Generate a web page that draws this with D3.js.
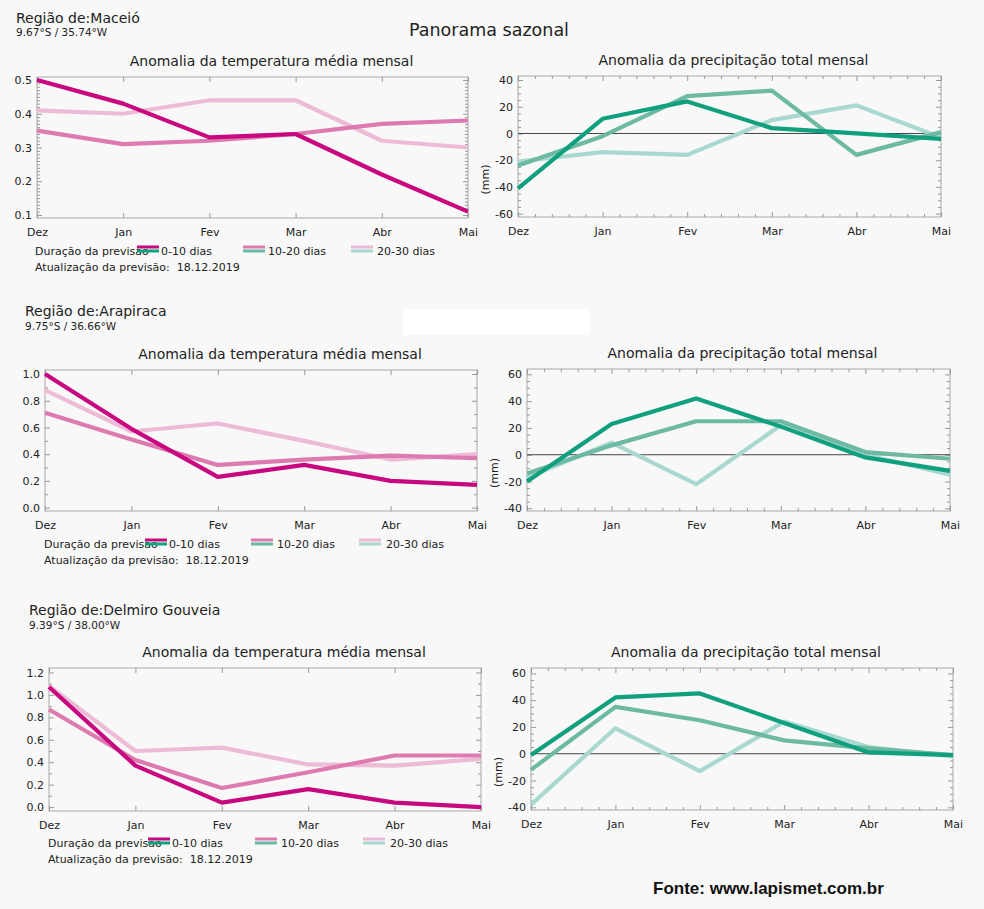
<html>
<head>
  <script type="text/javascript" src="https://d3js.org/d3.v7.min.js"></script>
  <style>
      body { margin: 0; background: #f8f8f8; }
      svg text { font-family: "DejaVu Sans", sans-serif; fill: #222; }
  </style>
</head>
<body>
<div id="chart"></div>
<script>
    // months on the x axis and the three forecast ranges
    const months = ["Dez", "Jan", "Fev", "Mar", "Abr", "Mai"];
    const seriesNames = ["0-10 dias", "10-20 dias", "20-30 dias"];

    // temperature anomaly, one row per forecast range (0-10, 10-20, 20-30)
    const maceioTemp = [
        [0.50, 0.43, 0.33, 0.34, 0.22, 0.11],
        [0.35, 0.31, 0.32, 0.34, 0.37, 0.38],
        [0.41, 0.40, 0.44, 0.44, 0.32, 0.30]
    ];
    const arapiracaTemp = [
        [1.00, 0.59, 0.23, 0.32, 0.20, 0.17],
        [0.71, 0.51, 0.32, 0.36, 0.39, 0.37],
        [0.88, 0.57, 0.63, 0.50, 0.36, 0.40]
    ];
    const delmiroTemp = [
        [1.07, 0.37, 0.04, 0.16, 0.04, 0.00],
        [0.87, 0.42, 0.17, 0.31, 0.46, 0.46],
        [1.08, 0.50, 0.53, 0.38, 0.37, 0.43]
    ];

    // precipitation anomaly (mm)
    const maceioPrec = [
        [-41, 11, 24, 4, 0, -4],
        [-24, -2, 28, 32, -16, 1],
        [-21, -14, -16, 10, 21, -3]
    ];
    const arapiracaPrec = [
        [-20, 23, 42, 21, -2, -12],
        [-14, 7, 25, 25, 2, -3],
        [-17, 9, -22, 22, 0, -15]
    ];
    const delmiroPrec = [
        [-1, 42, 45, 23, 1, -1],
        [-12, 35, 25, 10, 4, -1],
        [-38, 19, -13, 24, 5, -2]
    ];

    // tick labels
    const tempTicks1 = [0.1, 0.2, 0.3, 0.4, 0.5];
    const tempTicks2 = [0.0, 0.2, 0.4, 0.6, 0.8, 1.0];
    const tempTicks3 = [0.0, 0.2, 0.4, 0.6, 0.8, 1.0, 1.2];
    const precTicks1 = [-60, -40, -20, 0, 20, 40];
    const precTicks2 = [-40, -20, 0, 20, 40, 60];

    const regionNames = ["Região de:Maceió", "Região de:Arapiraca", "Região de:Delmiro Gouveia"];
    const regionCoords = ["9.67°S / 35.74°W", "9.75°S / 36.66°W", "9.39°S / 38.00°W"];
    const updateDate = "18.12.2019";

    const pinkColors = ["#c8087f", "#dd7aaf", "#eebbd7"];
    const greenColors = ["#11a07e", "#6db9a3", "#a9d8d1"];

    const width = 984, height = 909;
    const svg = d3.select("#chart").append("svg")
        .attr("width", width)
        .attr("height", height);

    svg.append("rect").attr("width", width).attr("height", height).attr("fill", "#f8f8f8");

    function drawPanel(box, data, domain, ticks, minorStep, colors, xMinor, isPrec, title, titleShift) {
        const x = d3.scalePoint().domain(months).range([box.left, box.right]);
        const y = d3.scaleLinear().domain(domain).range([box.bottom, box.top]);
        const g = svg.append("g");

        g.append("rect")
            .attr("x", box.left).attr("y", box.top)
            .attr("width", box.right - box.left).attr("height", box.bottom - box.top)
            .attr("fill", "#f8f8f8").attr("stroke", "#a8a8a8");

        const minorTicks = d3.range(Math.ceil(domain[0] / minorStep) * minorStep, domain[1], minorStep)
            .filter(v => ticks.every(t => Math.abs(t - v) > 1e-6));

        // y axes (left with labels, right without)
        g.append("g").attr("transform", `translate(${box.left},0)`)
            .call(d3.axisLeft(y).tickValues(ticks).tickSize(-5).tickPadding(5)
                .tickFormat(isPrec ? (d => String(d)) : d3.format(".1f")));
        g.append("g").attr("transform", `translate(${box.left},0)`)
            .call(d3.axisLeft(y).tickValues(minorTicks).tickSize(-3).tickFormat(""));
        g.append("g").attr("transform", `translate(${box.right},0)`)
            .call(d3.axisRight(y).tickValues(ticks).tickSize(-5).tickFormat(""));
        g.append("g").attr("transform", `translate(${box.right},0)`)
            .call(d3.axisRight(y).tickValues(minorTicks).tickSize(-3).tickFormat(""));

        // x axes
        g.append("g").attr("transform", `translate(0,${box.bottom})`)
            .call(d3.axisBottom(x).tickSize(-5).tickPadding(10));
        g.append("g").attr("transform", `translate(0,${box.top})`)
            .call(d3.axisTop(x).tickSize(-5).tickFormat(""));
        if (xMinor) {
            const xm = d3.scaleLinear().domain([0, 25]).range([box.left, box.right]);
            const mv = d3.range(1, 25).filter(v => v % 5 !== 0);
            g.append("g").attr("transform", `translate(0,${box.bottom})`)
                .call(d3.axisBottom(xm).tickValues(mv).tickSize(-3).tickFormat(""));
            g.append("g").attr("transform", `translate(0,${box.top})`)
                .call(d3.axisTop(xm).tickValues(mv).tickSize(-3).tickFormat(""));
        }

        g.selectAll(".domain").remove();
        g.selectAll(".tick line").attr("stroke", "#999");
        g.selectAll(".tick text").attr("font-size", 11).attr("fill", "#222")
            .attr("font-family", "DejaVu Sans, sans-serif");

        if (isPrec) {
            g.append("line")
                .attr("x1", box.left).attr("x2", box.right)
                .attr("y1", y(0)).attr("y2", y(0))
                .attr("stroke", "#444").attr("stroke-width", 1);
            g.append("text")
                .attr("transform", `translate(${box.left - 29},${(box.top + box.bottom) / 2 + 33}) rotate(-90)`)
                .attr("text-anchor", "middle")
                .attr("font-size", 11)
                .text("(mm)");
        }

        const line = d3.line().x((d, i) => x(months[i])).y(d => y(d));
        [2, 1, 0].forEach(k => {
            g.append("path")
                .datum(data[k])
                .attr("d", line)
                .attr("fill", "none")
                .attr("stroke", colors[k])
                .attr("stroke-width", 4.2)
                .attr("stroke-linejoin", "round");
        });

        g.append("text")
            .attr("x", (box.left + box.right) / 2 + titleShift)
            .attr("y", box.top - 11)
            .attr("text-anchor", "middle")
            .attr("font-size", 14)
            .text(title);
    }

    const layout = [
        { header: [16, 23, 36], temp: { left: 37, right: 468, top: 77, bottom: 218 },
          prec: { left: 518, right: 941, top: 76, bottom: 217 },
          legend: { x: 35, y: 255, sw: [137, 243, 351], tx: [161, 268, 377] } },
        { header: [25, 316, 330], temp: { left: 45, right: 477, top: 370, bottom: 511 },
          prec: { left: 527, right: 950, top: 369, bottom: 511 },
          legend: { x: 44, y: 548, sw: [145, 251, 359], tx: [169, 277, 386] } },
        { header: [29, 615, 629], temp: { left: 49, right: 481, top: 668, bottom: 811 },
          prec: { left: 531, right: 953, top: 668, bottom: 810 },
          legend: { x: 48, y: 847, sw: [148, 255, 363], tx: [172, 281, 390] } }
    ];

    const tempData = [maceioTemp, arapiracaTemp, delmiroTemp];
    const precData = [maceioPrec, arapiracaPrec, delmiroPrec];
    const tempDomains = [[0.091, 0.509], [-0.025, 1.03], [-0.035, 1.24]];
    const tempTickSets = [tempTicks1, tempTicks2, tempTicks3];
    const tempMinor = [0.01, 0.1, 0.1];
    const precDomains = [[-62.5, 43], [-42, 64], [-42, 64]];
    const precTickSets = [precTicks1, precTicks2, precTicks2];

    layout.forEach((L, r) => {
        svg.append("text").attr("x", L.header[0]).attr("y", L.header[1])
            .attr("font-size", 14).text(regionNames[r]);
        svg.append("text").attr("x", L.header[0]).attr("y", L.header[2])
            .attr("font-size", 10.5).text(regionCoords[r]);

        drawPanel(L.temp, tempData[r], tempDomains[r], tempTickSets[r], tempMinor[r],
            pinkColors, false, false, "Anomalia da temperatura média mensal", 19);
        drawPanel(L.prec, precData[r], precDomains[r], precTickSets[r], 5,
            greenColors, true, true, "Anomalia da precipitação total mensal", 4);

        // legend
        const lg = L.legend;
        svg.append("text").attr("x", lg.x).attr("y", lg.y).attr("font-size", 11)
            .text("Duração da previsão");
        seriesNames.forEach((s, k) => {
            svg.append("line").attr("x1", lg.sw[k]).attr("x2", lg.sw[k] + 22)
                .attr("y1", lg.y - 8).attr("y2", lg.y - 8)
                .attr("stroke", pinkColors[k]).attr("stroke-width", 3);
            svg.append("line").attr("x1", lg.sw[k]).attr("x2", lg.sw[k] + 22)
                .attr("y1", lg.y - 4).attr("y2", lg.y - 4)
                .attr("stroke", greenColors[k]).attr("stroke-width", 3);
            svg.append("text").attr("x", lg.tx[k]).attr("y", lg.y).attr("font-size", 11)
                .text(s);
        });
        svg.append("text").attr("x", lg.x).attr("y", lg.y + 16).attr("font-size", 11)
            .attr("xml:space", "preserve")
            .text("Atualização da previsão:  " + updateDate);
    });

    svg.append("text").attr("x", 489).attr("y", 36)
        .attr("text-anchor", "middle").attr("font-size", 17.5)
        .text("Panorama sazonal");

    // blank patch in the middle section
    svg.append("rect").attr("x", 403).attr("y", 309).attr("width", 187).attr("height", 26)
        .attr("fill", "#ffffff");

    svg.append("text").attr("x", 653).attr("y", 894)
        .attr("font-weight", "bold").attr("font-size", 17)
        .style("font-family", "Liberation Sans, Arial, sans-serif")
        .style("fill", "#111")
        .text("Fonte: www.lapismet.com.br");
</script>
</body>
</html>
